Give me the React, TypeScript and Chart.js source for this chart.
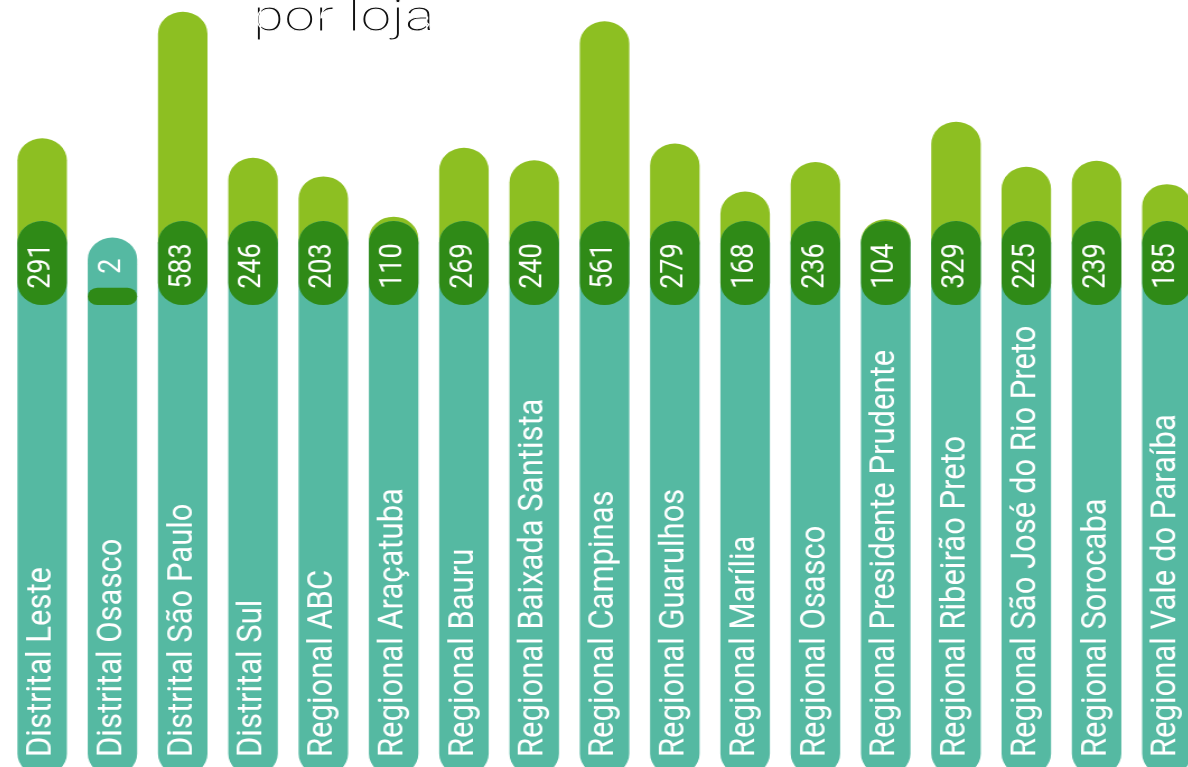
import React, { useEffect, useRef } from 'react';
import { Chart, registerables } from 'chart.js';

Chart.register(...registerables);

// ---- data ----
const categories: string[] = [
  'Distrital Leste',
  'Distrital Osasco',
  'Distrital São Paulo',
  'Distrital Sul',
  'Regional ABC',
  'Regional Araçatuba',
  'Regional Bauru',
  'Regional Baixada Santista',
  'Regional Campinas',
  'Regional Guarulhos',
  'Regional Marília',
  'Regional Osasco',
  'Regional Presidente Prudente',
  'Regional Ribeirão Preto',
  'Regional São José do Rio Preto',
  'Regional Sorocaba',
  'Regional Vale do Paraíba',
];
const values: number[] = [291, 2, 583, 246, 203, 110, 269, 240, 561, 279, 168, 236, 104, 329, 225, 239, 185];
const titleText = 'por loja';

// ---- style / layout constants ----
const GREEN = '#8dbf22';
const TEAL = '#55b9a2';
const DARK = '#2f8a17';
const Y_MIN = -1236;
const Y_MAX = 610;
const TRACK_BOTTOM = -1180;
const BADGE_TOP = 100;
const BADGE_BOTTOM = -94;
const TRACK_GAP = 60;
const SMALL_VALUE = 50;
const SMALL_BADGE = 40;
const LABEL_CENTER = -4;
const STRETCH_X = 1.12;
const CANVAS_W = 1067;
const CANVAS_H = 800;

const trackData = values.map((v) => [TRACK_BOTTOM, Math.min(BADGE_TOP, v + TRACK_GAP)]);
const badgeData = values.map((v) => [BADGE_BOTTOM, v < SMALL_VALUE ? BADGE_BOTTOM + SMALL_BADGE : BADGE_TOP]);
const valueData = values.map((v) => [0, v]);

const labelPlugin = {
  id: 'barLabels',
  afterDatasetsDraw(chart: any) {
    const ctx = chart.ctx as CanvasRenderingContext2D;
    const yScale = chart.scales.y;
    const meta = chart.getDatasetMeta(0);
    ctx.save();
    ctx.fillStyle = '#ffffff';
    meta.data.forEach((bar: any, i: number) => {
      ctx.save();
      ctx.translate(bar.x, yScale.getPixelForValue(LABEL_CENTER));
      ctx.rotate(-Math.PI / 2);
      ctx.font = '27px Roboto';
      ctx.textAlign = 'center';
      ctx.textBaseline = 'middle';
      ctx.fillText(String(values[i]), 0, 0);
      ctx.restore();

      ctx.save();
      ctx.translate(bar.x, chart.chartArea.bottom - 43);
      ctx.rotate(-Math.PI / 2);
      ctx.font = '31px Roboto';
      ctx.textAlign = 'left';
      ctx.textBaseline = 'middle';
      ctx.fillText(categories[i], 0, 0);
      ctx.restore();
    });
    ctx.restore();
  },
};

export default function App() {
  const canvasRef = useRef<HTMLCanvasElement | null>(null);

  useEffect(() => {
    if (!canvasRef.current) return;
    const common = {
      grouped: false,
      borderSkipped: false as const,
      borderRadius: 200,
      barPercentage: 0.704,
      categoryPercentage: 1,
    };
    const chart = new Chart(canvasRef.current, {
      type: 'bar',
      data: {
        labels: categories,
        datasets: [
          { label: 'valor', data: valueData as any, backgroundColor: GREEN, order: 3, ...common },
          { label: 'trilha', data: trackData as any, backgroundColor: TEAL, order: 2, ...common },
          { label: 'rótulo', data: badgeData as any, backgroundColor: DARK, order: 1, ...common },
        ],
      },
      options: {
        responsive: false,
        animation: false,
        devicePixelRatio: 1,
        layout: { padding: 0 },
        scales: {
          x: { display: false, offset: true },
          y: { display: false, min: Y_MIN, max: Y_MAX },
        },
        plugins: {
          legend: { display: false },
          tooltip: { enabled: false },
          title: { display: false },
        },
      },
      plugins: [labelPlugin],
    });
    return () => chart.destroy();
  }, []);

  return (
    <div style={{ position: 'fixed', left: 0, top: 0, width: 1188, height: 767, overflow: 'hidden', background: '#fff' }}>
      <div
        style={{
          position: 'absolute',
          left: 253,
          top: -6,
          fontFamily: 'Roboto, sans-serif',
          fontWeight: 300,
          fontSize: 44,
          lineHeight: 1,
          color: '#111',
          whiteSpace: 'nowrap',
          WebkitTextStroke: '1px #ffffff',
          paintOrder: 'fill stroke',
          transform: 'scaleX(1.27)',
          transformOrigin: 'left top',
        }}
      >
        {titleText}
      </div>
      <div
        style={{
          position: 'absolute',
          left: 6.55,
          top: 0,
          width: CANVAS_W,
          height: CANVAS_H,
          transform: `scaleX(${STRETCH_X})`,
          transformOrigin: 'left top',
        }}
      >
        <canvas ref={canvasRef} width={CANVAS_W} height={CANVAS_H} />
      </div>
    </div>
  );
}
